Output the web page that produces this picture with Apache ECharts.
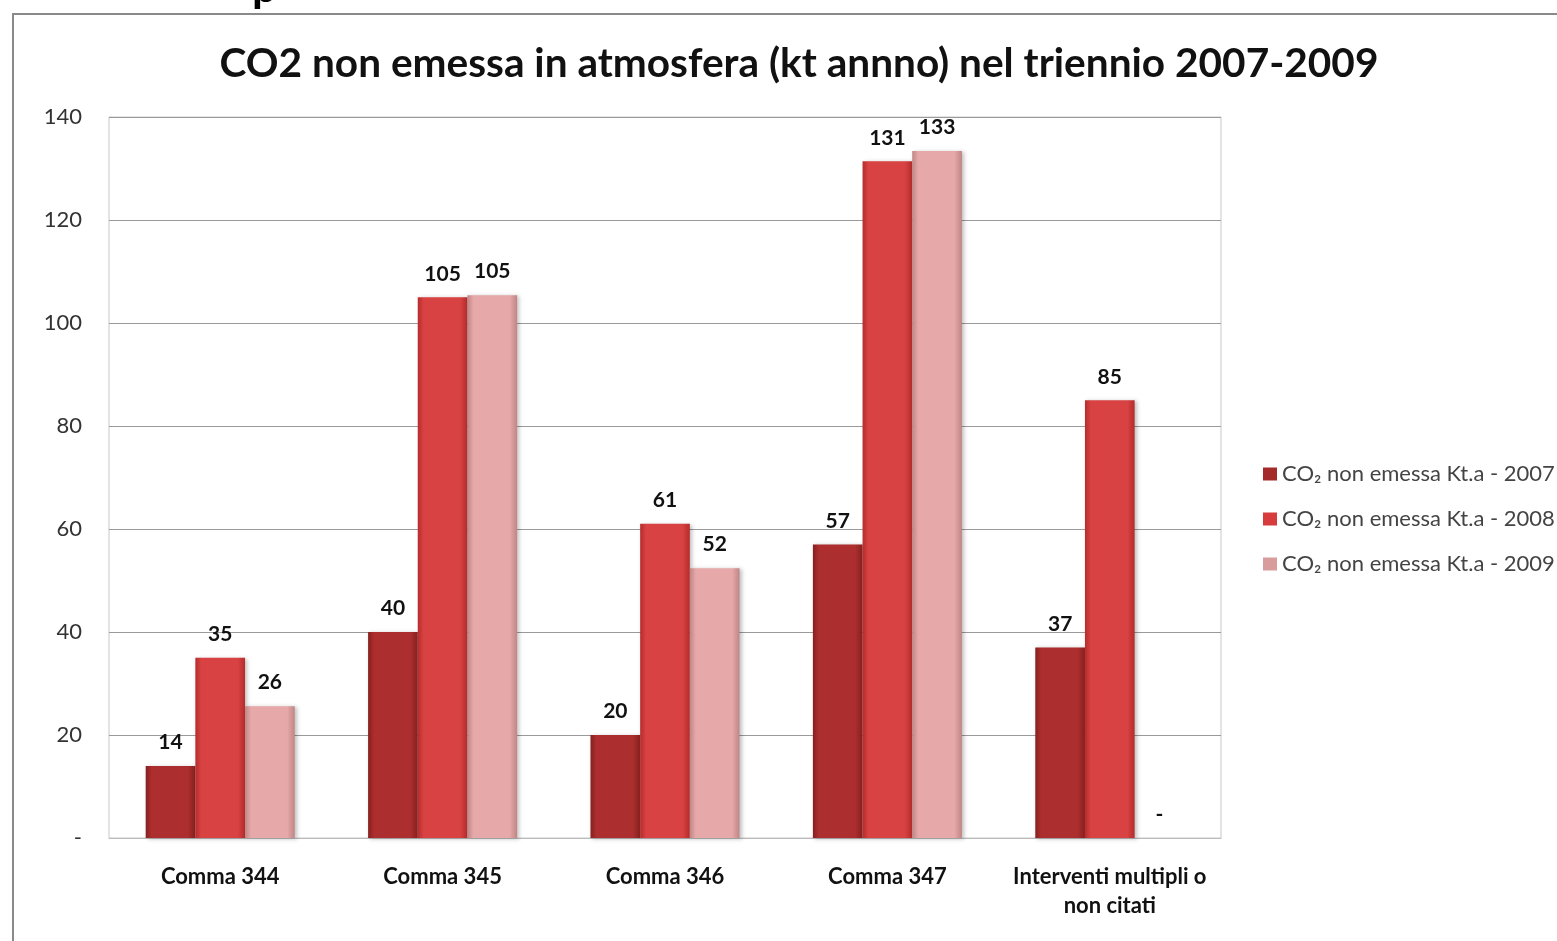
<!DOCTYPE html>
<html>
<head>
<meta charset="utf-8">
<title>CO2 non emessa</title>
<script src="https://cdn.jsdelivr.net/npm/echarts@6/dist/echarts.min.js"></script>
<style>
  html, body { margin: 0; padding: 0; background: #fff; }
  #chart { width: 1557px; height: 941px; }
</style>
</head>
<body>
<div id="chart"></div>
<script>
const categories = ['Comma 344', 'Comma 345', 'Comma 346', 'Comma 347', 'Interventi multipli o\nnon citati']
const years = ['2007', '2008', '2009']
const values2007 = [14, 40, 20, 57, 37]
const values2008 = [35, 105, 61, 131.4, 85]
const values2009 = [25.6, 105.4, 52.4, 133.4, 0]

const font = 'Lato, "Open Sans", sans-serif'

// colori "3D" dei vecchi grafici Excel
function barColor(dark, mid) {
  return new echarts.graphic.LinearGradient(0, 0, 1, 0, [
    { offset: 0, color: dark },
    { offset: 0.12, color: mid },
    { offset: 0.85, color: mid },
    { offset: 1, color: dark }
  ])
}
const palette = [
  { bar: barColor('#86201f', '#ad2e2e'), legend: '#a52a2a' },
  { bar: barColor('#b52c2c', '#d94242'), legend: '#d63c3c' },
  { bar: barColor('#c08585', '#e6a8a8'), legend: '#d99c9c' }
]
const seriesValues = [values2007, values2008, values2009]

const chart = echarts.init(document.getElementById('chart'))

chart.setOption({
  backgroundColor: '#ffffff',
  animation: false,
  title: {
    text: 'CO2 non emessa in atmosfera (kt annno) nel triennio 2007-2009',
    left: 794,
    top: 38,
    textAlign: 'center',
    textStyle: {
      fontFamily: font,
      fontWeight: 'bold',
      fontSize: 40.6,
      color: '#111'
    }
  },
  graphic: [
    {
      type: 'rect',
      shape: { x: 13, y: 14, width: 1600, height: 1000 },
      style: { fill: 'none', stroke: '#8a8a8a', lineWidth: 2 }
    },
    {
      type: 'text',
      left: 252,
      top: -34,
      style: { text: 'p', font: 'bold 44px ' + font, fill: '#000' }
    }
  ],
  legend: {
    orient: 'vertical',
    left: 1258,
    top: 458,
    itemGap: 23,
    itemWidth: 14,
    itemHeight: 13,
    icon: 'rect',
    textStyle: { fontFamily: font, fontSize: 22, color: '#444' },
    data: years.map((y, i) => ({
      name: 'CO₂ non emessa Kt.a - ' + y,
      itemStyle: { color: palette[i].legend }
    }))
  },
  grid: {
    left: 109,
    right: 1557 - 1221,
    top: 117,
    bottom: 941 - 838,
    show: true,
    borderColor: '#c8c8c8',
    borderWidth: 1
  },
  xAxis: {
    type: 'category',
    data: categories,
    axisTick: { show: false },
    axisLine: { lineStyle: { color: '#bbb' } },
    axisLabel: {
      interval: 0,
      margin: 24,
      fontFamily: font,
      fontWeight: 'bold',
      fontSize: 22,
      lineHeight: 29,
      color: '#111'
    }
  },
  yAxis: {
    type: 'value',
    min: 0,
    max: 140,
    interval: 20,
    axisLine: { show: false },
    axisTick: { show: false },
    splitLine: { lineStyle: { color: '#9a9a9a', width: 1 } },
    axisLabel: {
      margin: 27,
      fontFamily: font,
      fontSize: 22,
      color: '#333',
      formatter: v => (v === 0 ? '-' : String(v))
    }
  },
  series: years.map((y, i) => ({
    name: 'CO₂ non emessa Kt.a - ' + y,
    type: 'bar',
    data: seriesValues[i],
    barGap: '0%',
    barCategoryGap: '33%',
    itemStyle: {
      color: palette[i].bar,
      shadowColor: 'rgba(0,0,0,0.25)',
      shadowBlur: 4,
      shadowOffsetX: 2,
      shadowOffsetY: 1
    },
    label: {
      show: true,
      position: 'top',
      distance: 13,
      fontFamily: font,
      fontWeight: 'bold',
      fontSize: 21,
      color: '#111',
      formatter: p => (p.value === 0 ? '-' : String(Math.round(p.value)))
    }
  }))
})
</script>
</body>
</html>
